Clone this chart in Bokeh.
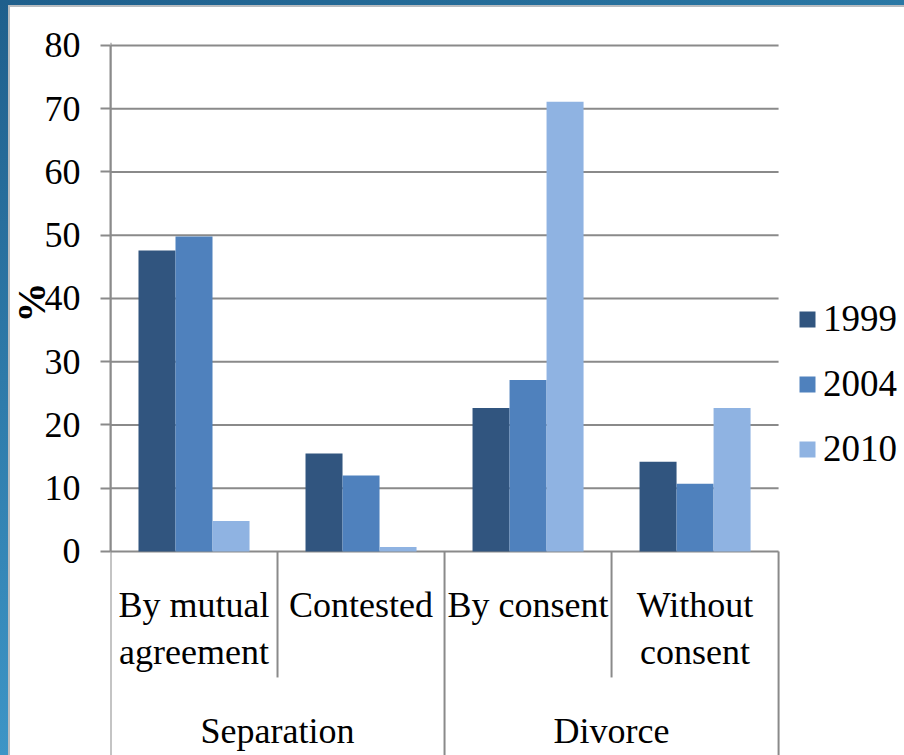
from bokeh.plotting import figure
from bokeh.models import Range1d, FixedTicker, Legend, LegendItem
from bokeh.core.properties import value
from bokeh.embed import file_html
from bokeh.resources import INLINE

# Share of separations and divorces by type (%)
categories = ["By mutual agreement", "Contested", "By consent", "Without consent"]
category_lines = [("By mutual", "agreement"), ("Contested", ""), ("By consent", ""), ("Without", "consent")]
groups = ["Separation", "Divorce"]
group_spans = [(0, 2), (2, 4)]
years = ["1999", "2004", "2010"]
share_1999 = [47.6, 15.5, 22.7, 14.2]
share_2004 = [49.8, 12.0, 27.1, 10.7]
share_2010 = [4.8, 0.7, 71.1, 22.7]
y_ticks = [0, 10, 20, 30, 40, 50, 60, 70, 80]
year_colors = ["#31557F", "#4F81BD", "#8FB3E2"]

FONT = "Liberation Serif"
GRID = "#8a8a8a"
PX_PER_UNIT = 6.325      # vertical pixels per percentage point
BAR_W = 0.2216           # width of one bar in category units

p = figure(
    width=904, height=755,
    x_range=Range1d(0, 4.754), y_range=Range1d(-32.26, 80.47),
    x_axis_location=None, y_axis_location="left",
    title="%", title_location="left",
    toolbar_location=None, output_backend="svg",
    min_border_left=110, min_border_top=42, min_border_right=0, min_border_bottom=0,
    background_fill_color="white", border_fill_color=None, outline_line_color=None,
)
p.styles = {
    "background": (
        "linear-gradient(#ffffff,#ffffff) 10px 7px / 100% 100% no-repeat, "
        "linear-gradient(#b8bcc0,#b8bcc0) 8px 5px / 100% 100% no-repeat, "
        "linear-gradient(90deg,#1f5f8c,#2a78a5) 0 0 / 100% 5px no-repeat, "
        "linear-gradient(180deg,#1f5f8c,#3d95c6)"
    )
}
p.xgrid.visible = False
p.ygrid.visible = False

# the "%" axis title, placed level with the middle of the 0-80 scale
p.title.text_font = FONT
p.title.text_font_size = "40px"
p.title.text_font_style = "bold"
p.title.text_color = "black"
p.title.align = "right"
p.title.offset = 240
p.title.standoff = -24

ax = p.yaxis[0]
ax.ticker = FixedTicker(ticks=y_ticks)
ax.bounds = (0, 80)
ax.minor_tick_line_color = None
ax.major_tick_in = 0
ax.major_tick_out = 10
ax.major_tick_line_color = GRID
ax.major_tick_line_width = 2
ax.axis_line_color = GRID
ax.axis_line_width = 2
ax.major_label_standoff = 20
ax.major_label_text_font = FONT
ax.major_label_text_font_size = "36px"
ax.major_label_text_color = "black"

n = len(categories)
bottom = p.y_range.start
top = p.y_range.end

# horizontal gridlines across the four categories
p.segment(x0=[0] * len(y_ticks), x1=[n] * len(y_ticks), y0=y_ticks, y1=y_ticks,
          line_color=GRID, line_width=2)

# bars
centers = [i + 0.5 for i in range(n)]
renderers = []
for k, (vals, col) in enumerate(zip([share_1999, share_2004, share_2010], year_colors)):
    xs = [c + (k - 1) * BAR_W for c in centers]
    r = p.vbar(x=xs, top=vals, bottom=0, width=BAR_W, fill_color=col, line_color=None)
    renderers.append(r)

# vertical rule at the left edge and category separators below the axis
inner_depth = -(677 - 551) / PX_PER_UNIT
p.segment(x0=[0], x1=[0], y0=[bottom], y1=[top], line_color=GRID, line_width=2)
p.segment(x0=[1, 3], x1=[1, 3], y0=[0, 0], y1=[inner_depth, inner_depth],
          line_color=GRID, line_width=2)
p.segment(x0=[2, 4], x1=[2, 4], y0=[0, 0], y1=[bottom, bottom],
          line_color=GRID, line_width=2)

# category and group labels
line1 = [a for a, b in category_lines]
line2 = [b for a, b in category_lines]
common = dict(text_font=value(FONT), text_font_size="36px", text_color="black",
              text_align="center", text_baseline="alphabetic")
p.text(x=centers, y=[0] * n, text=line1, y_offset=54, **common)
p.text(x=centers, y=[0] * n, text=line2, y_offset=101, **common)
group_centers = [(a + b) / 2 for a, b in group_spans]
p.text(x=group_centers, y=[0] * len(groups), text=groups, y_offset=180, **common)

legend = Legend(
    items=[LegendItem(label=y, renderers=[r]) for y, r in zip(years, renderers)],
    location=(687, 285), orientation="vertical",
    label_text_font=FONT, label_text_font_size="37px", label_text_color="black",
    glyph_width=20, glyph_height=20, label_standoff=6, spacing=22,
    padding=0, margin=0, border_line_color=None, background_fill_alpha=0,
)
p.add_layout(legend)

open("out.html", "w").write(file_html(p, INLINE))
